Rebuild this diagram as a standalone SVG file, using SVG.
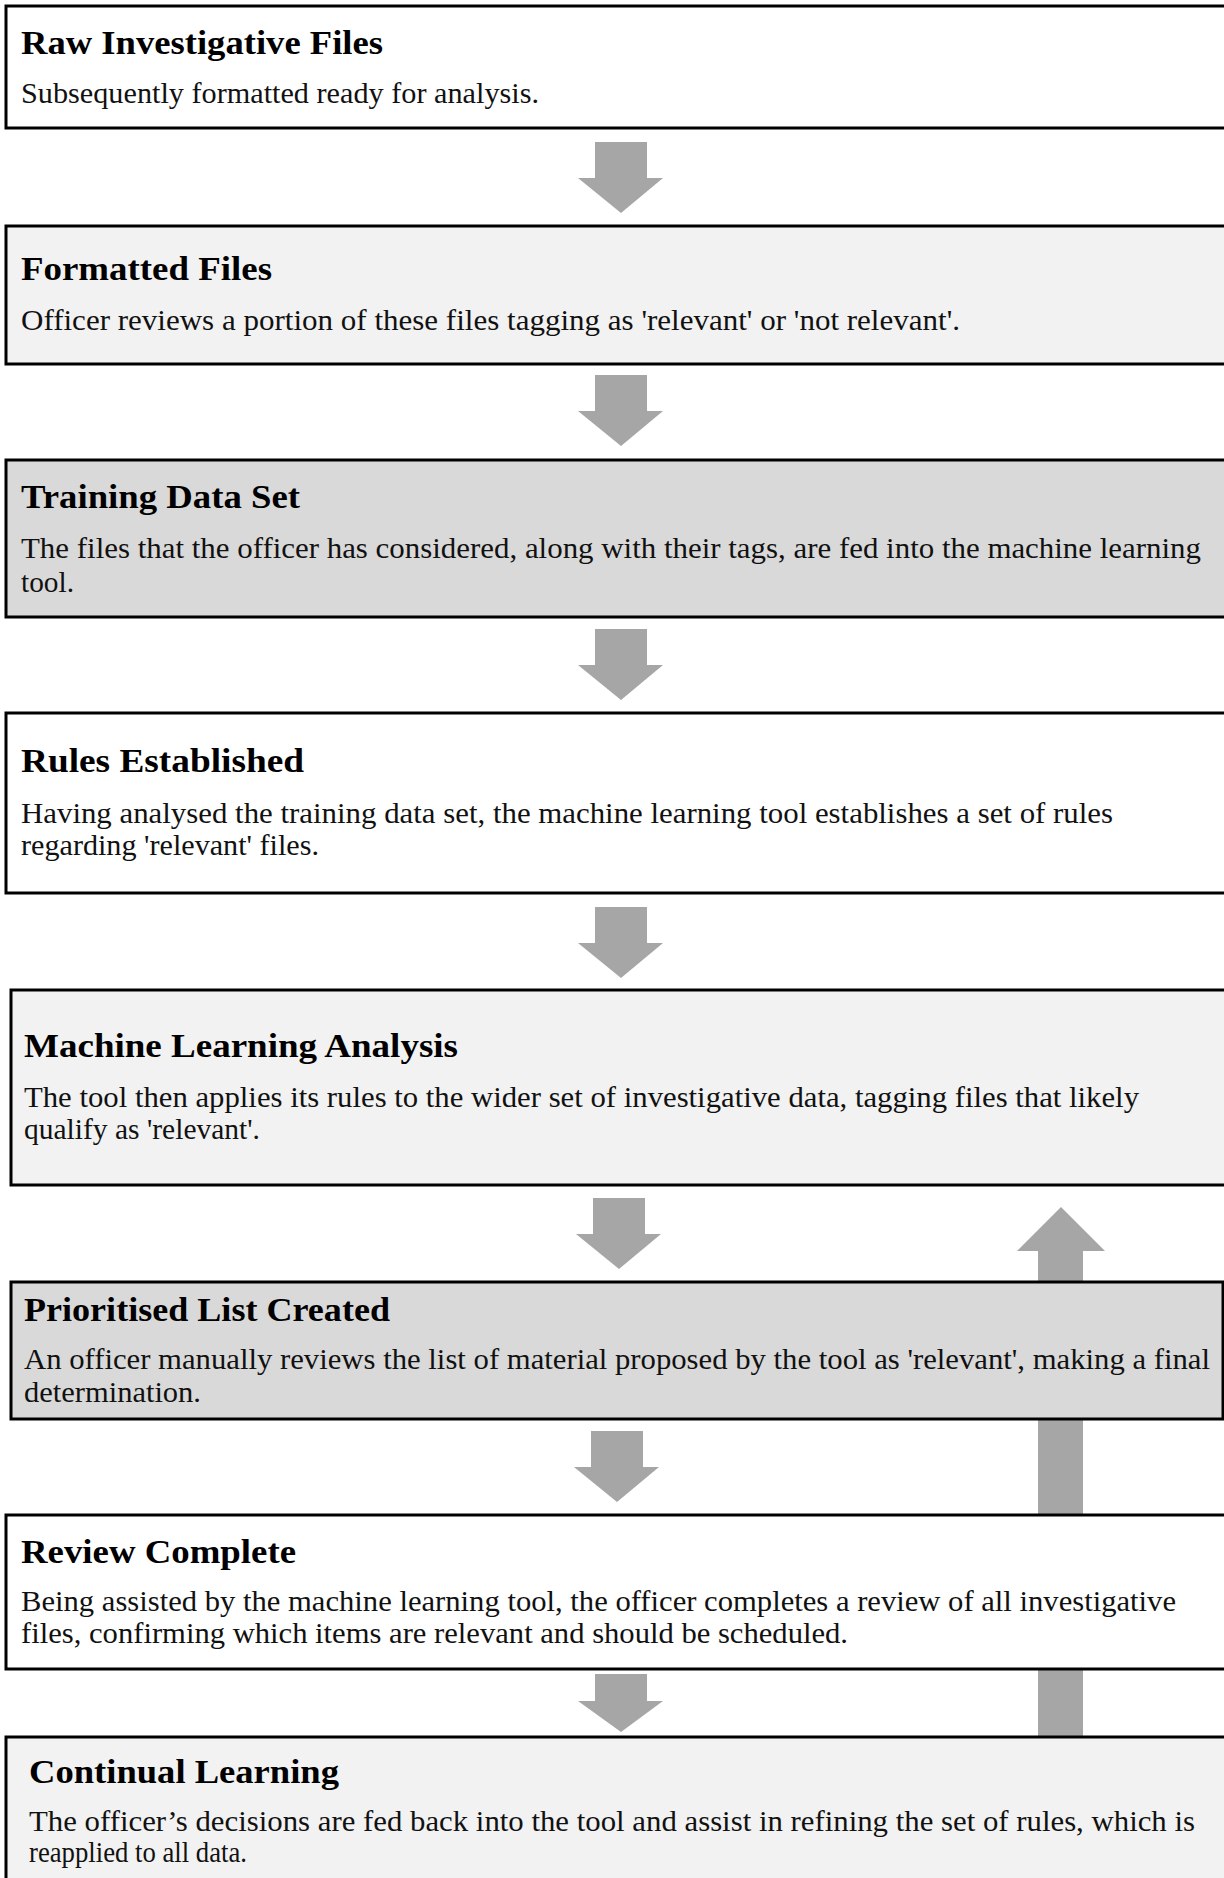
<svg xmlns="http://www.w3.org/2000/svg" width="1224" height="1878" viewBox="0 0 1224 1878">
<style>
.box{stroke:#000;stroke-width:3}
.w{fill:#ffffff}.l{fill:#f2f2f2}.d{fill:#d9d9d9}
.arr{fill:#a6a6a6}
.t{font-family:"Liberation Serif",serif;font-weight:bold;font-size:33px;fill:#000}
.b{font-family:"Liberation Serif",serif;font-size:29px;fill:#111}
</style>
<rect x="0" y="0" width="1224" height="1878" fill="#fff"/>
<g id="connectors">
<path class="arr" d="M595,142H647V178H663L621,213L578,178H595Z"/>
<path class="arr" d="M595,375H647V411H663L621,446L578,411H595Z"/>
<path class="arr" d="M595,629H647V665H663L621,700L578,665H595Z"/>
<path class="arr" d="M595,907H647V943H663L621,978L578,943H595Z"/>
<path class="arr" d="M593,1198H645V1234H661L619,1269L576,1234H593Z"/>
<path class="arr" d="M591,1431H643V1467H659L617,1502L574,1467H591Z"/>
<path class="arr" d="M595,1674H647V1701H663L621,1732L578,1701H595Z"/>
<path class="arr" d="M1038,1740V1251H1017L1061,1207L1105,1251H1083V1740Z"/>
</g>
<g id="n1">
<rect class="box w" x="6" y="6" width="1240" height="122"/>
<text class="t" x="21" y="54" textLength="362" lengthAdjust="spacingAndGlyphs">Raw Investigative Files</text>
<text class="b" x="21" y="103" textLength="518" lengthAdjust="spacingAndGlyphs">Subsequently formatted ready for analysis.</text>
</g>
<g id="n2">
<rect class="box l" x="6" y="226" width="1240" height="138"/>
<text class="t" x="21" y="280" textLength="251" lengthAdjust="spacingAndGlyphs">Formatted Files</text>
<text class="b" x="21" y="330" textLength="939" lengthAdjust="spacingAndGlyphs">Officer reviews a portion of these files tagging as 'relevant' or 'not relevant'.</text>
</g>
<g id="n3">
<rect class="box d" x="6" y="460" width="1240" height="157"/>
<text class="t" x="21" y="508" textLength="279" lengthAdjust="spacingAndGlyphs">Training Data Set</text>
<text class="b" x="21" y="558" textLength="1180" lengthAdjust="spacingAndGlyphs">The files that the officer has considered, along with their tags, are fed into the machine learning</text>
<text class="b" x="21" y="592" textLength="53" lengthAdjust="spacingAndGlyphs">tool.</text>
</g>
<g id="n4">
<rect class="box w" x="6" y="713" width="1240" height="180"/>
<text class="t" x="21" y="772" textLength="283" lengthAdjust="spacingAndGlyphs">Rules Established</text>
<text class="b" x="21" y="823" textLength="1092" lengthAdjust="spacingAndGlyphs">Having analysed the training data set, the machine learning tool establishes a set of rules</text>
<text class="b" x="21" y="855" textLength="298" lengthAdjust="spacingAndGlyphs">regarding 'relevant' files.</text>
</g>
<g id="n5">
<rect class="box l" x="11" y="990" width="1240" height="195"/>
<text class="t" x="24" y="1057" textLength="434" lengthAdjust="spacingAndGlyphs">Machine Learning Analysis</text>
<text class="b" x="24" y="1107" textLength="1115" lengthAdjust="spacingAndGlyphs">The tool then applies its rules to the wider set of investigative data, tagging files that likely</text>
<text class="b" x="24" y="1139" textLength="236" lengthAdjust="spacingAndGlyphs">qualify as 'relevant'.</text>
</g>
<g id="n6">
<rect class="box d" x="11" y="1282" width="1212" height="137"/>
<text class="t" x="24" y="1321" textLength="366" lengthAdjust="spacingAndGlyphs">Prioritised List Created</text>
<text class="b" x="24" y="1369" textLength="1186" lengthAdjust="spacingAndGlyphs">An officer manually reviews the list of material proposed by the tool as 'relevant', making a final</text>
<text class="b" x="24" y="1402" textLength="177" lengthAdjust="spacingAndGlyphs">determination.</text>
</g>
<g id="n7">
<rect class="box w" x="6" y="1515" width="1240" height="154"/>
<text class="t" x="21" y="1563" textLength="275" lengthAdjust="spacingAndGlyphs">Review Complete</text>
<text class="b" x="21" y="1611" textLength="1155" lengthAdjust="spacingAndGlyphs">Being assisted by the machine learning tool, the officer completes a review of all investigative</text>
<text class="b" x="21" y="1643" textLength="827" lengthAdjust="spacingAndGlyphs">files, confirming which items are relevant and should be scheduled.</text>
</g>
<g id="n8">
<rect class="box l" x="6" y="1737" width="1240" height="160"/>
<text class="t" x="29" y="1783" textLength="310" lengthAdjust="spacingAndGlyphs">Continual Learning</text>
<text class="b" x="29" y="1831" textLength="1166" lengthAdjust="spacingAndGlyphs">The officer’s decisions are fed back into the tool and assist in refining the set of rules, which is</text>
<text class="b" x="29" y="1862" textLength="218" lengthAdjust="spacingAndGlyphs">reapplied to all data.</text>
</g>
</svg>
